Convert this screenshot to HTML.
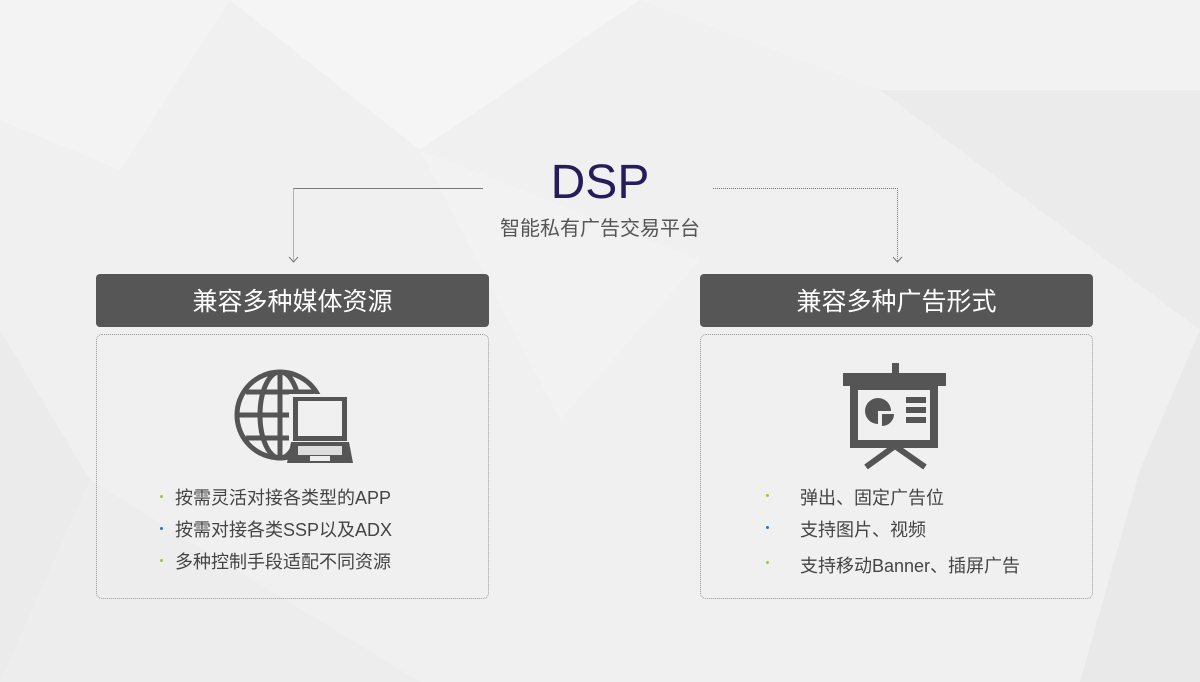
<!DOCTYPE html>
<html><head><meta charset="utf-8"><style>
body{margin:0;width:1200px;height:682px;overflow:hidden;font-family:"Liberation Sans","Noto Sans CJK SC",sans-serif;}
.bg{position:absolute;left:0;top:0;width:1200px;height:682px;}
.t{position:absolute;white-space:nowrap;}
.hd{position:absolute;height:53px;background:#565656;border-radius:4px;color:#fff;font-size:25px;line-height:56px;text-align:center;width:393px;top:274px;}
.bx{position:absolute;width:391px;height:263px;top:334px;border:1px dotted #999;border-radius:6px;}
.li{position:absolute;font-size:18px;color:#444;white-space:nowrap;}
.dot{position:absolute;width:3px;height:3px;border-radius:50%;}
</style></head><body>
<svg class="bg" width="1200" height="682">
<rect width="1200" height="682" fill="#f0f0f0"/>
<polygon points="0,0 230,0 120,170 0,120" fill="#f3f3f3"/>
<polygon points="230,0 640,0 420,150" fill="#f5f5f5"/>
<polygon points="640,0 1200,0 1200,90 880,90" fill="#f2f2f2"/>
<polygon points="880,90 1200,90 1200,330" fill="#ebebeb"/>
<polygon points="1140,470 1200,330 1200,682 1080,682" fill="#e9e9e9"/>
<polygon points="0,330 90,480 0,682" fill="#ebebeb"/>
<polygon points="90,480 420,682 0,682" fill="#ededed"/>
<polygon points="420,150 700,260 560,420" fill="#f2f2f2"/>
</svg>
<svg class="bg" width="1200" height="682">
<g fill="none" stroke="#777" stroke-width="1">
<path d="M483 188.5H293.5"/>
<path d="M293.5 188.5V262" stroke-dasharray="1 1"/>
<path d="M713 188.5H897.5V262" stroke-dasharray="1 1"/>
<path d="M289 257l4.5 5 4.5-5M893 257l4.5 5 4.5-5"/>
</g>
<g fill="none" stroke="#555" stroke-width="5">
<circle cx="280" cy="415" r="43"/>
<ellipse cx="280" cy="415" rx="20" ry="43"/>
<line x1="280" y1="372" x2="280" y2="458"/>
<line x1="237" y1="415" x2="323" y2="415"/>
<path d="M246 392H314M246 438H314"/>
</g>
<rect x="289" y="394" width="60" height="48" fill="#efefef"/>
<rect x="293" y="397" width="54" height="44" fill="#555"/>
<rect x="298" y="401" width="44" height="35" fill="#f0f0f0"/>
<polygon points="291,442 349,442 353,463 287,463" fill="#555"/>
<rect x="298" y="446" width="44" height="9" fill="#ddd"/>
<rect x="310" y="456" width="20" height="5" fill="#eee"/>
<rect x="892" y="363" width="7" height="12" fill="#555"/>
<rect x="843" y="373" width="103" height="13" fill="#555"/>
<rect x="854" y="386" width="80" height="58" fill="none" stroke="#555" stroke-width="8"/>
<path d="M866 467L895 446L925 467" stroke="#555" stroke-width="6" fill="none"/>
<path d="M878 398a13 13 0 1 0 0 26v-13h13a13 13 0 0 0 -13 -13z" fill="#555"/>
<path d="M882 414h12a12 12 0 0 1 -12 12z" fill="#555"/>
<rect x="906" y="397" width="20" height="6" fill="#555"/>
<rect x="906" y="407" width="20" height="6" fill="#555"/>
<rect x="906" y="417" width="20" height="6" fill="#555"/>
</svg>
<div class="t" style="left:0;width:1200px;text-align:center;top:155px;font-size:48px;color:#261c5a;font-family:'Liberation Sans Narrow','Liberation Sans',sans-serif;">DSP</div>
<div class="t" style="left:0;width:1200px;text-align:center;top:212px;font-size:20px;color:#555;">智能私有广告交易平台</div>
<div class="hd" style="left:96px;">兼容多种媒体资源</div>
<div class="hd" style="left:700px;">兼容多种广告形式</div>
<div class="bx" style="left:96px;"></div>
<div class="bx" style="left:700px;"></div>
<div class="dot" style="left:160px;top:495px;background:#9c3;"></div>
<div class="dot" style="left:160px;top:527px;background:#27c;"></div>
<div class="dot" style="left:160px;top:559px;background:#9c3;"></div>
<div class="li" style="left:175px;top:484px;">按需灵活对接各类型的APP</div>
<div class="li" style="left:175px;top:516px;">按需对接各类SSP以及ADX</div>
<div class="li" style="left:175px;top:548px;">多种控制手段适配不同资源</div>
<div class="dot" style="left:766px;top:494px;background:#9c3;"></div>
<div class="dot" style="left:766px;top:526px;background:#27c;"></div>
<div class="dot" style="left:766px;top:561px;background:#9c3;"></div>
<div class="li" style="left:800px;top:484px;">弹出、固定广告位</div>
<div class="li" style="left:800px;top:516px;">支持图片、视频</div>
<div class="li" style="left:800px;top:552px;">支持移动Banner、插屏广告</div>
</body></html>
